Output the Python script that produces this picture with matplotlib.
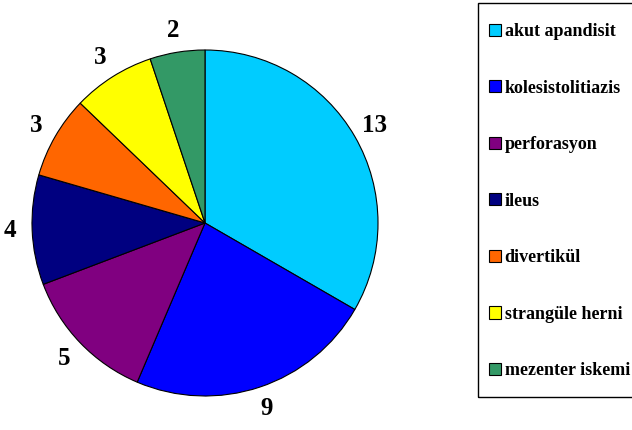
import matplotlib.pyplot as plt
from matplotlib.patches import Patch, Rectangle

plt.rcParams['font.family'] = ['Liberation Serif', 'DejaVu Serif']

# veriler
hastaliklar = ['akut apandisit', 'kolesistolitiazis', 'perforasyon', 'ileus',
               'divertikül', 'strangüle herni', 'mezenter iskemi']
sayilar = [13, 9, 5, 4, 3, 3, 2]
renkler = ['#00CCFF', '#0000FF', '#800080', '#000080', '#FF6600', '#FFFF00', '#339966']

W, H = 632, 430
fig = plt.figure(figsize=(W / 100, H / 100), dpi=100)
# pasta merkezi ~ (205, 223) px, yaricap ~173 px
ax = fig.add_axes([(205 - 173) / W, (H - 223 - 173) / H, 346 / W, 346 / H])
wedges, texts = ax.pie(sayilar, colors=renkler, startangle=90, counterclock=False,
                       labels=[str(s) for s in sayilar], labeldistance=1.13,
                       wedgeprops=dict(edgecolor='black', linewidth=0.8),
                       textprops=dict(fontsize=18, fontweight='bold'))
for t in texts:
    t.set_horizontalalignment('center')
    t.set_verticalalignment('center')
ax.set_xlim(-1, 1)
ax.set_ylim(-1, 1)
ax.set_aspect('equal')

# lejant cercevesi
fig.patches.append(Rectangle((478 / W, 1 - 397 / H), 170 / W, 394 / H,
                             transform=fig.transFigure, fill=False,
                             edgecolor='black', linewidth=1.0))

tutamaclar = [Patch(facecolor=c, edgecolor='black', linewidth=0.8) for c in renkler]
leg = fig.legend(tutamaclar, hastaliklar, loc='upper left',
                 bbox_to_anchor=(489 / W, 1 - 23 / H),
                 borderaxespad=0, borderpad=0, frameon=False,
                 prop=dict(size=13, weight='bold'),
                 handlelength=0.67, handleheight=0.67, handletextpad=0.2,
                 labelspacing=2.19)

fig.savefig('out.png', dpi=100)
